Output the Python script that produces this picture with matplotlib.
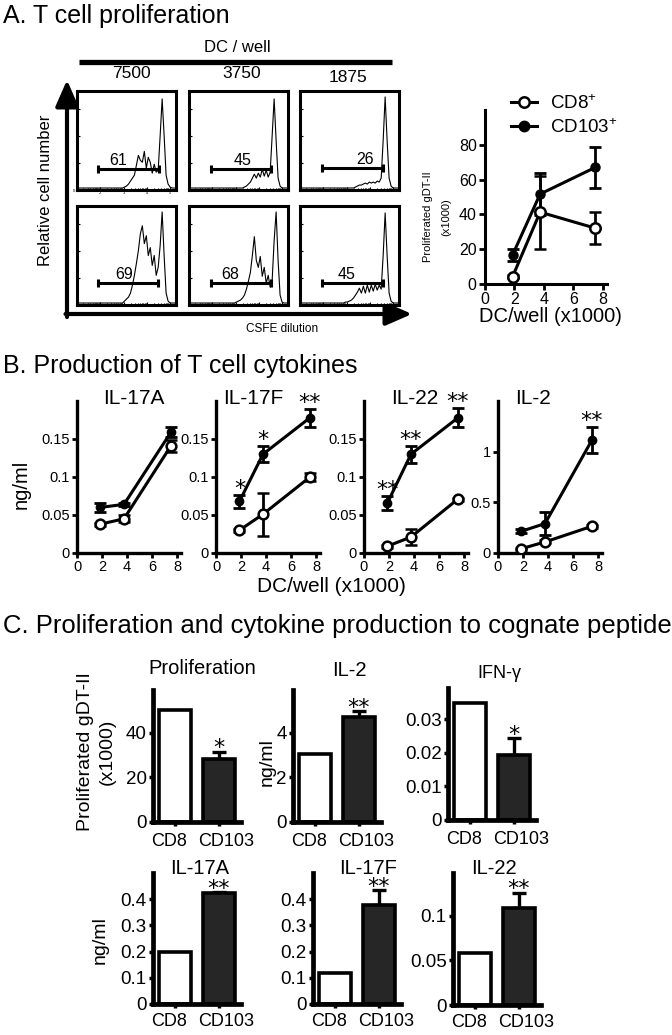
import matplotlib
matplotlib.use('Agg')
import matplotlib.pyplot as plt
import numpy as np
from matplotlib.lines import Line2D

plt.rcParams['font.family'] = ['Liberation Sans', 'DejaVu Sans']
plt.rcParams['mathtext.fontset'] = 'custom'
plt.rcParams['mathtext.rm'] = 'Liberation Sans'
plt.rcParams['mathtext.it'] = 'Liberation Sans:italic'
plt.rcParams['mathtext.bf'] = 'Liberation Sans:bold'

W, H = 672, 1035

# ---------------- A. CFSE histograms (x = fraction of plot width, y = fraction of height)
dc_columns = ['7500', '3750', '1875']
hist_x = [0.0, 0.40, 0.44, 0.46, 0.48, 0.50, 0.52, 0.54, 0.56, 0.58, 0.60, 0.62, 0.64, 0.66, 0.68,
          0.70, 0.72, 0.74, 0.76, 0.78, 0.80, 0.82, 0.84, 0.86, 0.88, 0.90, 0.92, 0.94, 0.96, 1.0]
hist_61 = [0.02, 0.02, 0.02, 0.02, 0.03, 0.04, 0.06, 0.09, 0.12, 0.15, 0.25, 0.35, 0.30, 0.28, 0.39,
           0.22, 0.33, 0.28, 0.17, 0.26, 0.18, 0.20, 0.55, 0.92, 0.55, 0.15, 0.06, 0.03, 0.02, 0.02]
hist_45a = [0.02, 0.02, 0.02, 0.02, 0.02, 0.02, 0.02, 0.02, 0.03, 0.04, 0.06, 0.08, 0.12, 0.16, 0.12,
            0.17, 0.13, 0.21, 0.14, 0.20, 0.13, 0.18, 0.55, 0.92, 0.50, 0.12, 0.04, 0.02, 0.02, 0.02]
hist_26 = [0.02, 0.02, 0.02, 0.02, 0.02, 0.02, 0.02, 0.02, 0.03, 0.04, 0.05, 0.05, 0.06, 0.07, 0.06,
           0.08, 0.07, 0.08, 0.07, 0.09, 0.08, 0.12, 0.50, 0.94, 0.50, 0.12, 0.04, 0.02, 0.02, 0.02]
hist_69 = [0.02, 0.02, 0.02, 0.02, 0.04, 0.06, 0.08, 0.12, 0.20, 0.30, 0.42, 0.55, 0.72, 0.80, 0.62,
           0.70, 0.50, 0.58, 0.40, 0.50, 0.30, 0.38, 0.60, 0.94, 0.50, 0.12, 0.04, 0.02, 0.02, 0.02]
hist_68 = [0.02, 0.02, 0.02, 0.02, 0.03, 0.04, 0.05, 0.07, 0.10, 0.16, 0.24, 0.33, 0.50, 0.69, 0.45,
           0.38, 0.49, 0.29, 0.38, 0.22, 0.30, 0.18, 0.25, 0.65, 0.94, 0.45, 0.10, 0.03, 0.02, 0.02]
hist_45b = [0.02, 0.02, 0.02, 0.03, 0.03, 0.04, 0.05, 0.07, 0.10, 0.13, 0.17, 0.12, 0.19, 0.12, 0.20,
            0.13, 0.20, 0.14, 0.21, 0.15, 0.20, 0.16, 0.50, 0.93, 0.50, 0.12, 0.04, 0.02, 0.02, 0.02]
hist_curves = [hist_61, hist_45a, hist_26, hist_69, hist_68, hist_45b]
gate_pct = [61, 45, 26, 69, 68, 45]
gate_start = [0.21, 0.22, 0.22, 0.21, 0.22, 0.22]
gate_end = [0.83, 0.83, 0.835, 0.82, 0.83, 0.835]
gate_y = [0.21, 0.21, 0.22, 0.22, 0.22, 0.22]
gate_label_x = [0.42, 0.54, 0.66, 0.48, 0.42, 0.47]

# ---------------- A. proliferated cells vs DC number
dc_well = [1.875, 3.75, 7.5]
prolif_cd8 = [4.2, 41.3, 32.1]
prolif_cd8_err = [1.0, 21.0, 9.2]
prolif_cd103 = [16.7, 51.7, 67.0]
prolif_cd103_err = [3.5, 12.0, 11.8]

# ---------------- B. cytokines vs DC number (ng/ml)
cyto_names = ['IL-17A', 'IL-17F', 'IL-22', 'IL-2']
il17a_cd8 = [0.038, 0.045, 0.141]
il17a_cd8_err = [0.002, 0.0045, 0.008]
il17a_cd103 = [0.060, 0.064, 0.159]
il17a_cd103_err = [0.0055, 0.002, 0.0065]
il17f_cd8 = [0.030, 0.051, 0.100]
il17f_cd8_err = [0.002, 0.028, 0.0055]
il17f_cd103 = [0.068, 0.130, 0.178]
il17f_cd103_err = [0.0085, 0.0105, 0.012]
il22_cd8 = [0.009, 0.021, 0.071]
il22_cd8_err = [0.002, 0.011, 0.002]
il22_cd103 = [0.066, 0.130, 0.178]
il22_cd103_err = [0.009, 0.011, 0.0125]
il2_cd8 = [0.043, 0.109, 0.264]
il2_cd8_err = [0.01, 0.015, 0.015]
il2_cd103 = [0.215, 0.29, 1.115]
il2_cd103_err = [0.02, 0.113, 0.125]
il17a_stars = ['', '', '']
il17f_stars = ['*', '*', '**']
il22_stars = ['**', '**', '**']
il2_stars = ['', '', '**']

# ---------------- C. response to cognate peptide
c_groups = ['CD8', 'CD103']
c_titles = ['Proliferation', 'IL-2', 'IFN-\u03b3', 'IL-17A', 'IL-17F', 'IL-22']
c_cd8 = [50.0, 3.05, 0.0348, 0.200, 0.118, 0.058]
c_cd103 = [28.0, 4.70, 0.0195, 0.423, 0.378, 0.109]
c_cd103_err = [3.5, 0.25, 0.005, 0.005, 0.057, 0.017]
c_stars = ['*', '**', '*', '**', '**', '**']
c_yticks = [[0, 20, 40], [0, 2, 4], [0, 0.01, 0.02, 0.03],
            [0, 0.1, 0.2, 0.3, 0.4], [0, 0.1, 0.2, 0.3, 0.4], [0, 0.05, 0.1]]
c_yticklabels = [['0', '20', '40'], ['0', '2', '4'], ['0', '0.01', '0.02', '0.03'],
                 ['0', '0.1', '0.2', '0.3', '0.4'], ['0', '0.1', '0.2', '0.3', '0.4'], ['0', '0.05', '0.1']]

fig = plt.figure(figsize=(W / 100, H / 100), dpi=100)


def px_axes(left, top, width, height, **kw):
    return fig.add_axes([left / W, 1 - (top + height) / H, width / W, height / H], **kw)


def fig_text(x, y, s, **kw):
    return fig.text(x / W, 1 - y / H, s, **kw)


def open_axes(ax, lw):
    for s in ['top', 'right']:
        ax.spines[s].set_visible(False)
    for s in ['left', 'bottom']:
        ax.spines[s].set_linewidth(lw)


def add_star(ax, x, y, s, dy):
    if s:
        ax.annotate(s, (x, y), xytext=(0, dy), textcoords='offset points', ha='center',
                    va='baseline', fontsize=16, family='DejaVu Sans', annotation_clip=False)


# decoration layer in pixel coordinates
deco = fig.add_axes([0, 0, 1, 1], zorder=-1)
deco.set_xlim(0, W)
deco.set_ylim(H, 0)
deco.axis('off')

# ======== Panel A
fig_text(3, 23, 'A. T cell proliferation', fontsize=18, va='baseline')
fig_text(237, 48, 'DC / well', fontsize=12, ha='center', va='center')
deco.plot([79, 392], [62, 62], color='black', lw=3.8, solid_capstyle='butt')
for lab, x, y in zip(dc_columns, [131, 242, 348], [74, 74, 77]):
    fig_text(x, y, lab, fontsize=12.5, ha='center', va='center')

deco.annotate('', xy=(67, 80), xytext=(67, 317),
              arrowprops=dict(arrowstyle='-|>,head_width=0.35,head_length=0.8', lw=3,
                              color='black', mutation_scale=20, shrinkA=0, shrinkB=0))
deco.annotate('', xy=(412, 314), xytext=(65.5, 314),
              arrowprops=dict(arrowstyle='-|>,head_width=0.35,head_length=0.8', lw=3,
                              color='black', mutation_scale=20, shrinkA=0, shrinkB=0))
fig_text(46, 190, 'Relative cell number', fontsize=12, rotation=90, ha='center', va='center')
fig_text(282, 329, 'CSFE dilution', fontsize=8.5, ha='center', va='center')

hist_cols = [77, 189, 300]
hist_rows = [91, 206]
dec_pos = [0.23, 0.47, 0.71, 0.94]
minor_pos = [d + 0.237 * np.log10(k) for d in [-0.007] + dec_pos[:-1] for k in range(2, 10)]
for i, ys in enumerate(hist_curves):
    r, c = divmod(i, 3)
    ax = px_axes(hist_cols[c], hist_rows[r], 99, 99)
    ax.plot(hist_x, ys, color='black', lw=0.8)
    ax.plot([gate_start[i], gate_end[i]], [gate_y[i], gate_y[i]], color='black', lw=2.2)
    ax.plot([gate_start[i], gate_end[i]], [gate_y[i], gate_y[i]], ls='none', marker='|',
            ms=6, mew=2.2, color='black')
    ax.text(gate_label_x[i], gate_y[i] + 0.085, str(gate_pct[i]), ha='center', va='center',
            fontsize=11.5)
    ax.set_xlim(0, 1)
    ax.set_ylim(0, 1)
    for sp in ax.spines.values():
        sp.set_linewidth(2.2)
    ax.set_yticks([0, 0.27, 0.55, 0.82])
    ax.set_xticks(dec_pos)
    ax.set_xticks([m for m in minor_pos if 0 < m < 1], minor=True)
    ax.tick_params(which='both', direction='in', length=2, width=0.8, pad=1, labelsize=3)
    ax.tick_params(which='minor', length=1.2)
    if i == 0:
        ax.set_xticklabels(['2', '3', '4', '5'])
        ax.set_yticklabels(['0', '', '', ''])
    else:
        ax.set_xticklabels([])
        ax.set_yticklabels([])

# proliferation line chart
ax = px_axes(485, 110, 122, 174)
ax.errorbar(dc_well, prolif_cd103, yerr=prolif_cd103_err, color='black', lw=2.2, marker='o',
            ms=6.5, mfc='black', mec='black', capsize=4, capthick=2, elinewidth=2, zorder=3)
ax.errorbar(dc_well, prolif_cd8, yerr=prolif_cd8_err, color='black', lw=2.2, marker='o',
            ms=7.5, mfc='white', mec='black', mew=1.8, capsize=4, capthick=2, elinewidth=2, zorder=4)
ax.set_xlim(0, 8.3)
ax.set_ylim(0, 100)
ax.set_xticks([0, 2, 4, 6, 8])
ax.set_yticks([0, 20, 40, 60, 80])
open_axes(ax, 2.2)
ax.tick_params(length=4, width=2, labelsize=11.5, pad=2)
fig_text(428, 217, 'Proliferated gDT-II', fontsize=8, rotation=90, ha='center', va='center')
fig_text(446, 217, '(x1000)', fontsize=8, rotation=90, ha='center', va='center')
fig_text(550, 317, 'DC/well (x1000)', fontsize=14.5, ha='center', va='center')
handles = [Line2D([], [], color='black', lw=2.2, marker='o', ms=7.5, mfc='white', mec='black', mew=1.8),
           Line2D([], [], color='black', lw=2.2, marker='o', ms=7.5, mfc='black', mec='black')]
ax.legend(handles, ['CD8$^{+}$', 'CD103$^{+}$'], loc='upper left',
          bbox_to_anchor=(511 / W, 1 - 94 / H), bbox_transform=fig.transFigure, frameon=False,
          fontsize=13.5, handlelength=1.4, handletextpad=0.7, labelspacing=0.3, borderpad=0,
          borderaxespad=0)

# ======== Panel B
fig_text(3, 373, 'B. Production of T cell cytokines', fontsize=18, va='baseline')
b_cd8 = [il17a_cd8, il17f_cd8, il22_cd8, il2_cd8]
b_cd8_err = [il17a_cd8_err, il17f_cd8_err, il22_cd8_err, il2_cd8_err]
b_cd103 = [il17a_cd103, il17f_cd103, il22_cd103, il2_cd103]
b_cd103_err = [il17a_cd103_err, il17f_cd103_err, il22_cd103_err, il2_cd103_err]
b_stars = [il17a_stars, il17f_stars, il22_stars, il2_stars]
b_left = [77, 216, 364, 498]
b_ymax = [0.2, 0.2, 0.2, 1.5]
b_title_x = [134, 253, 415, 533]
for k, name in enumerate(cyto_names):
    ax = px_axes(b_left[k], 401, 104, 152)
    ax.errorbar(dc_well, b_cd103[k], yerr=b_cd103_err[k], color='black', lw=2.2, marker='o',
                ms=6, mfc='black', capsize=4, capthick=2, elinewidth=2, zorder=3)
    ax.errorbar(dc_well, b_cd8[k], yerr=b_cd8_err[k], color='black', lw=2.2, marker='o',
                ms=7, mfc='white', mec='black', mew=1.8, capsize=4, capthick=2, elinewidth=2,
                zorder=4)
    for x, y, e, s in zip(dc_well, b_cd103[k], b_cd103_err[k], b_stars[k]):
        add_star(ax, x, y + e, s, 0)
    ax.set_xlim(0, 8.3)
    ax.set_ylim(0, b_ymax[k])
    ax.set_xticks([0, 2, 4, 6, 8])
    if k < 3:
        ax.set_yticks([0, 0.05, 0.1, 0.15])
        ax.set_yticklabels(['0', '0.05', '0.1', '0.15'])
    else:
        ax.set_yticks([0, 0.5, 1])
        ax.set_yticklabels(['0', '0.5', '1'])
    open_axes(ax, 2.4)
    ax.tick_params(length=3.5, width=2, labelsize=10.5, pad=1.5)
    fig_text(b_title_x[k], 404, name, fontsize=15, ha='center', va='baseline')
fig_text(21, 484, 'ng/ml', fontsize=14.5, rotation=90, ha='center', va='center')
fig_text(331, 587, 'DC/well (x1000)', fontsize=15, ha='center', va='center')

# ======== Panel C
fig_text(3, 633, 'C. Proliferation and cytokine production to cognate peptide', fontsize=18.5,
         va='baseline')
c_left = [153, 293, 448, 153, 313, 453]
c_top = [690, 690, 688, 873, 873, 873]
c_height = [132, 132, 132, 131, 131, 132]
c_ymax = [59, 5.9, 0.0394, 0.5, 0.5, 0.148]
c_title_xy = [(202, 668), (349, 670), (499, 673), (200, 868), (368, 868), (494, 868)]
for k, title in enumerate(c_titles):
    ax = px_axes(c_left[k], c_top[k], 88, c_height[k])
    ax.bar([0, 1], [c_cd8[k], c_cd103[k]], width=0.74, color=['white', '#262626'],
           edgecolor='black', linewidth=2.6, zorder=3)
    ax.errorbar([1], [c_cd103[k]], yerr=[[0], [c_cd103_err[k]]], fmt='none', ecolor='black',
                elinewidth=2.4, capsize=5, capthick=2.4, zorder=2)
    add_star(ax, 1, c_cd103[k] + c_cd103_err[k], c_stars[k], -2)
    ax.set_xlim(-0.5, 1.5)
    ax.set_ylim(0, c_ymax[k])
    # tick marks under the bars, group names spread slightly apart (as in the original)
    ax.set_xticks([0, 1])
    ax.set_xticklabels([])
    ax.set_xticks([-0.14, 1.16], minor=True)
    ax.set_xticklabels(c_groups, minor=True)
    ax.set_yticks(c_yticks[k])
    ax.set_yticklabels(c_yticklabels[k])
    open_axes(ax, 3.4)
    ax.tick_params(length=3, width=2.5, labelsize=13.5, pad=1.5)
    ax.tick_params(axis='x', which='minor', length=0, labelsize=13,
                   pad=8 if k < 3 else 6.5)
    ax.spines['left'].set_zorder(4)
    ax.spines['bottom'].set_zorder(4)
    tx, ty = c_title_xy[k]
    fig_text(tx, ty, title, fontsize=14.5 if k != 2 else 13, ha='center', va='center')
fig_text(85, 752, 'Proliferated gDT-II', fontsize=14, rotation=90, ha='center', va='center')
fig_text(107, 752, '(x1000)', fontsize=14, rotation=90, ha='center', va='center')
fig_text(267, 762, 'ng/ml', fontsize=14, rotation=90, ha='center', va='center')
fig_text(100, 940, 'ng/ml', fontsize=14, rotation=90, ha='center', va='center')

fig.savefig('out.png', dpi=100)
